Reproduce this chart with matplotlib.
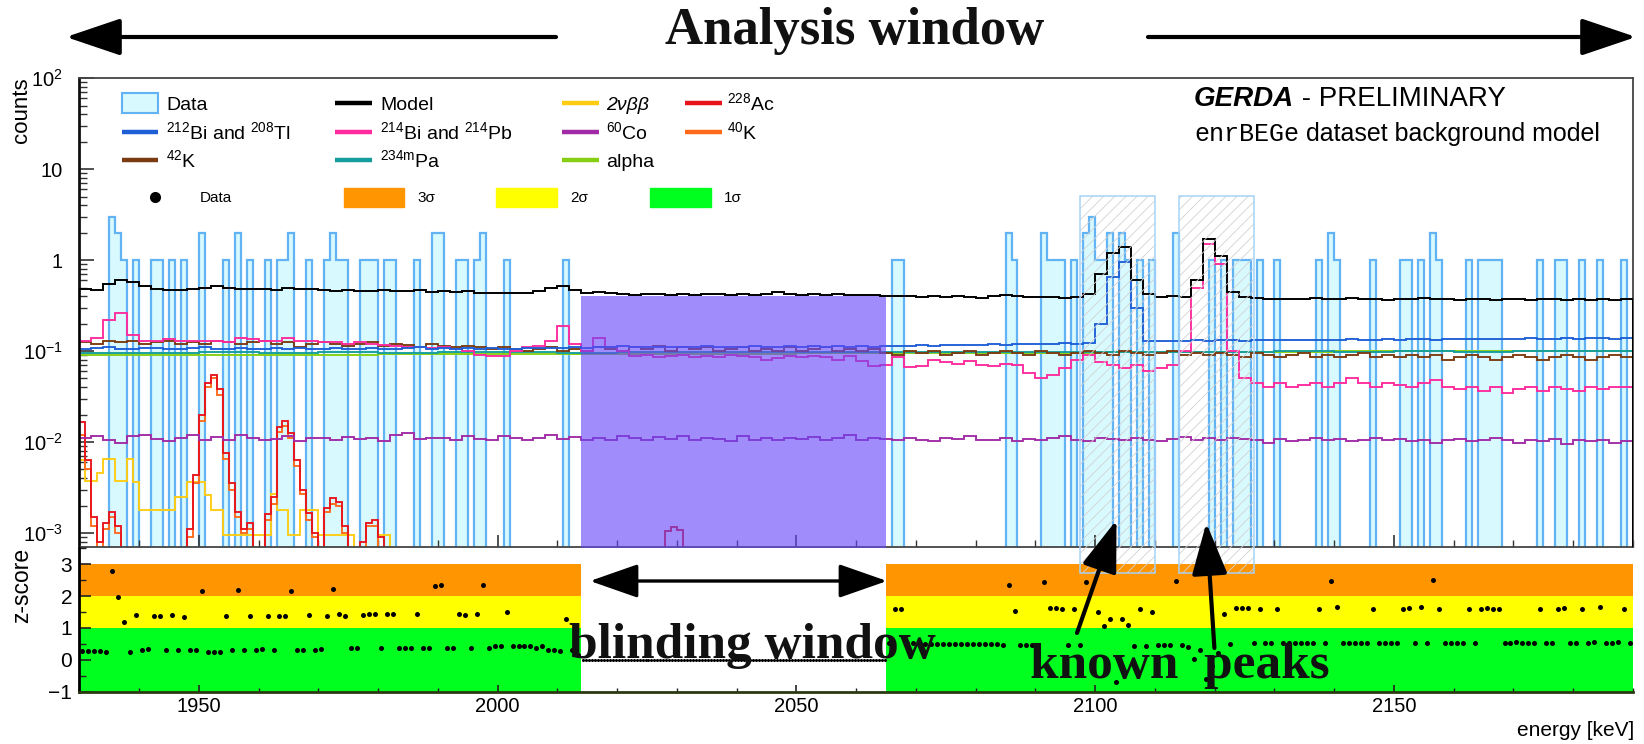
import matplotlib
matplotlib.use("Agg")
import matplotlib.pyplot as plt
import numpy as np
from matplotlib.lines import Line2D
from matplotlib.patches import Rectangle, FancyArrowPatch, ArrowStyle
from matplotlib.ticker import (FixedLocator, FixedFormatter, MultipleLocator,
                               LogLocator, NullFormatter)

plt.rcParams['font.family'] = ['Liberation Sans', 'DejaVu Sans']
plt.rcParams['mathtext.fontset'] = 'custom'
plt.rcParams['mathtext.rm'] = 'Liberation Sans'
plt.rcParams['mathtext.it'] = 'Liberation Sans:italic'
plt.rcParams['mathtext.bf'] = 'Liberation Sans:bold'
plt.rcParams['hatch.linewidth'] = 0.6

# ---------------- data ----------------
E_MIN, E_MAX = 1930, 2190
BLIND = (2014, 2065)
PEAK_BOXES = [(2097.5, 2110.0), (2114.0, 2126.5)]

# observed events per 1 keV bin (bins not listed are empty)
data_bins = [1935, 1936, 1937, 1939, 1942, 1943, 1945, 1947, 1950, 1954,
             1956, 1958, 1961, 1963, 1964, 1965, 1968, 1971, 1972, 1973,
             1974, 1977, 1978, 1979, 1981, 1982, 1986, 1989, 1990, 1993,
             1994, 1996, 1997, 2001, 2011,
             2066, 2067, 2085, 2086, 2091, 2092, 2093, 2094, 2096, 2098,
             2099, 2100, 2101, 2102, 2104, 2105, 2107, 2109, 2113, 2119,
             2121, 2123, 2124, 2125, 2127, 2130, 2137, 2139, 2140, 2146,
             2151, 2152, 2154, 2156, 2157, 2162, 2164, 2165, 2166, 2167,
             2174, 2177, 2178, 2181, 2184, 2188]
data_counts = [3, 2, 1, 1, 1, 1, 1, 1, 2, 1,
               2, 1, 1, 1, 1, 2, 1, 1, 2, 1,
               1, 1, 1, 1, 1, 1, 1, 2, 2, 1,
               1, 1, 2, 1, 1,
               1, 1, 2, 1, 2, 1, 1, 1, 1, 2,
               3, 1, 1, 2, 2, 1, 1, 1, 2, 1,
               1, 1, 1, 1, 1, 1, 1, 2, 1, 1,
               1, 1, 1, 2, 1, 1, 1, 1, 1, 1,
               1, 1, 1, 1, 1, 1]

# model components, 2 keV bins from 1930 to 2190
model = [0.48, 0.47, 0.55, 0.61, 0.58, 0.52, 0.48, 0.47, 0.47, 0.48,
         0.50, 0.52, 0.49, 0.48, 0.48, 0.48, 0.47, 0.49, 0.48, 0.48,
         0.47, 0.46, 0.47, 0.46, 0.46, 0.47, 0.46, 0.46, 0.47, 0.45,
         0.46, 0.45, 0.46, 0.44, 0.43, 0.43, 0.44, 0.43, 0.46, 0.49,
         0.52, 0.47, 0.44, 0.45, 0.44, 0.42, 0.41, 0.42, 0.42, 0.41,
         0.42, 0.41, 0.42, 0.42, 0.41, 0.42, 0.41, 0.42, 0.45, 0.42,
         0.41, 0.42, 0.41, 0.42, 0.41, 0.41, 0.41, 0.40, 0.40, 0.40,
         0.39, 0.40, 0.39, 0.40, 0.39, 0.38, 0.40, 0.41, 0.40, 0.39,
         0.39, 0.39, 0.38, 0.39, 0.42, 0.70, 1.20, 1.40, 0.60, 0.42,
         0.39, 0.40, 0.39, 0.60, 1.70, 1.10, 0.45, 0.39, 0.38, 0.37,
         0.37, 0.37, 0.37, 0.38, 0.37, 0.37, 0.38, 0.37, 0.37, 0.36,
         0.37, 0.37, 0.38, 0.37, 0.37, 0.36, 0.37, 0.37, 0.36, 0.37,
         0.37, 0.36, 0.37, 0.37, 0.36, 0.37, 0.36, 0.37, 0.36, 0.37]
bi212_tl208 = [0.105, 0.108, 0.110, 0.106, 0.105, 0.109, 0.108, 0.105, 0.106, 0.108,
               0.110, 0.106, 0.105, 0.107, 0.105, 0.106, 0.109, 0.105, 0.107, 0.106,
               0.105, 0.108, 0.106, 0.105, 0.108, 0.106, 0.105, 0.107, 0.110, 0.106,
               0.108, 0.105, 0.107, 0.106, 0.108, 0.105, 0.106, 0.108, 0.107, 0.109,
               0.108, 0.110, 0.108, 0.112, 0.110, 0.113, 0.111, 0.110, 0.112, 0.111,
               0.112, 0.110, 0.113, 0.111, 0.112, 0.110, 0.114, 0.112, 0.111, 0.113,
               0.112, 0.114, 0.111, 0.113, 0.112, 0.114, 0.112, 0.113, 0.115, 0.114,
               0.116, 0.115, 0.117, 0.116, 0.118, 0.117, 0.119, 0.118, 0.120, 0.119,
               0.121, 0.120, 0.122, 0.121, 0.123, 0.200, 0.650, 0.950, 0.300, 0.130,
               0.128, 0.130, 0.129, 0.131, 0.130, 0.132, 0.131, 0.130, 0.132, 0.131,
               0.133, 0.132, 0.134, 0.133, 0.132, 0.134, 0.135, 0.133, 0.134, 0.135,
               0.134, 0.136, 0.135, 0.134, 0.136, 0.135, 0.137, 0.136, 0.135, 0.137,
               0.136, 0.138, 0.137, 0.136, 0.138, 0.137, 0.139, 0.138, 0.137, 0.139]
bi214_pb214 = [0.130, 0.140, 0.220, 0.260, 0.150, 0.130, 0.130, 0.135, 0.130, 0.130,
               0.130, 0.130, 0.125, 0.140, 0.135, 0.130, 0.130, 0.140, 0.130, 0.130,
               0.125, 0.125, 0.120, 0.125, 0.120, 0.118, 0.115, 0.110, 0.112, 0.108,
               0.110, 0.105, 0.100, 0.090, 0.088, 0.088, 0.100, 0.112, 0.115, 0.130,
               0.190, 0.120, 0.100, 0.140, 0.110, 0.100, 0.088, 0.090, 0.085, 0.088,
               0.090, 0.085, 0.088, 0.085, 0.090, 0.088, 0.085, 0.080, 0.083, 0.088,
               0.085, 0.088, 0.085, 0.080, 0.088, 0.078, 0.068, 0.070, 0.085, 0.066,
               0.068, 0.080, 0.075, 0.072, 0.078, 0.070, 0.068, 0.072, 0.070, 0.058,
               0.050, 0.055, 0.065, 0.080, 0.090, 0.075, 0.070, 0.065, 0.070, 0.060,
               0.065, 0.070, 0.100, 0.500, 1.500, 0.900, 0.100, 0.050, 0.045, 0.040,
               0.045, 0.040, 0.042, 0.045, 0.040, 0.045, 0.050, 0.045, 0.040, 0.045,
               0.042, 0.040, 0.045, 0.048, 0.040, 0.038, 0.040, 0.036, 0.040, 0.035,
               0.038, 0.040, 0.036, 0.040, 0.038, 0.036, 0.040, 0.038, 0.040, 0.040]
k42 = [0.125, 0.120, 0.130, 0.125, 0.130, 0.120, 0.125, 0.130, 0.120, 0.125,
       0.120, 0.130, 0.125, 0.120, 0.125, 0.130, 0.120, 0.125, 0.110, 0.120,
       0.125, 0.120, 0.115, 0.120, 0.125, 0.115, 0.120, 0.118, 0.112, 0.120,
       0.115, 0.110, 0.115, 0.110, 0.105, 0.110, 0.105, 0.100, 0.105, 0.110,
       0.100, 0.105, 0.100, 0.110, 0.105, 0.100, 0.110, 0.105, 0.115, 0.100,
       0.110, 0.105, 0.110, 0.100, 0.105, 0.110, 0.100, 0.105, 0.100, 0.110,
       0.100, 0.105, 0.110, 0.100, 0.105, 0.100, 0.105, 0.095, 0.090, 0.100,
       0.095, 0.100, 0.090, 0.095, 0.100, 0.090, 0.095, 0.100, 0.095, 0.090,
       0.100, 0.095, 0.090, 0.095, 0.100, 0.095, 0.090, 0.100, 0.095, 0.090,
       0.095, 0.100, 0.090, 0.095, 0.090, 0.095, 0.090, 0.085, 0.095, 0.090,
       0.085, 0.090, 0.095, 0.085, 0.090, 0.085, 0.090, 0.095, 0.085, 0.090,
       0.085, 0.090, 0.085, 0.090, 0.080, 0.085, 0.090, 0.085, 0.080, 0.085,
       0.090, 0.085, 0.080, 0.085, 0.090, 0.085, 0.080, 0.085, 0.090, 0.085]
co60 = [0.0110, 0.0115, 0.0105, 0.0098, 0.0115, 0.0120, 0.0108, 0.0102, 0.0112, 0.0118,
        0.0106, 0.0114, 0.0104, 0.0120, 0.0112, 0.0105, 0.0108, 0.0116, 0.0102, 0.0112,
        0.0110, 0.0104, 0.0114, 0.0108, 0.0112, 0.0102, 0.0118, 0.0125, 0.0108, 0.0110,
        0.0112, 0.0104, 0.0115, 0.0108, 0.0106, 0.0115, 0.0112, 0.0105, 0.0112, 0.0118,
        0.0108, 0.0114, 0.0106, 0.0112, 0.0104, 0.0115, 0.0110, 0.0106, 0.0114, 0.0108,
        0.0116, 0.0104, 0.0112, 0.0108, 0.0102, 0.0115, 0.0106, 0.0110, 0.0104, 0.0112,
        0.0108, 0.0114, 0.0104, 0.0112, 0.0118, 0.0106, 0.0112, 0.0108, 0.0104, 0.0112,
        0.0106, 0.0102, 0.0112, 0.0108, 0.0115, 0.0104, 0.0106, 0.0112, 0.0102, 0.0108,
        0.0104, 0.0110, 0.0115, 0.0106, 0.0102, 0.0112, 0.0108, 0.0104, 0.0112, 0.0106,
        0.0102, 0.0108, 0.0114, 0.0106, 0.0110, 0.0104, 0.0112, 0.0108, 0.0104, 0.0098,
        0.0108, 0.0102, 0.0106, 0.0112, 0.0104, 0.0108, 0.0102, 0.0106, 0.0110, 0.0104,
        0.0108, 0.0102, 0.0106, 0.0098, 0.0104, 0.0108, 0.0102, 0.0106, 0.0112, 0.0104,
        0.0098, 0.0106, 0.0102, 0.0108, 0.0096, 0.0106, 0.0102, 0.0104, 0.0098, 0.0102]

# slowly varying components, 10 keV bins
alpha = [0.090, 0.090, 0.090, 0.091, 0.091, 0.092, 0.092, 0.092, 0.093, 0.093,
         0.094, 0.094, 0.095, 0.095, 0.095, 0.096, 0.096, 0.097, 0.097, 0.098,
         0.098, 0.099, 0.099, 0.100, 0.100, 0.100]
pa234m = [0.096, 0.096, 0.097, 0.096, 0.097, 0.096, 0.097, 0.097, 0.096, 0.097,
          0.097, 0.098, 0.097, 0.098, 0.097, 0.098, 0.098, 0.097, 0.098, 0.098,
          0.099, 0.098, 0.099, 0.098, 0.099, 0.099]

# low-energy gamma lines and 2nbb, 1 keV bins from 1930 to 1990
ac228 = [0.0165, 0.0063, 0.0015, 0.0008, 0.0013, 0.0017, 0.0012, 0.0002, 0.0002, 0.0002,
         0.0002, 0.0002, 0.0002, 0.0002, 0.0002, 0.0002, 0.0002, 0.0002, 0.0011, 0.0043,
         0.0200, 0.0450, 0.0550, 0.0380, 0.0076, 0.0035, 0.0017, 0.0011, 0.0013, 0.0002,
         0.0002, 0.0016, 0.0025, 0.0147, 0.0170, 0.0125, 0.0063, 0.0030, 0.00165, 0.0010,
         0.0002, 0.0019, 0.0024, 0.0022, 0.0012, 0.0002, 0.0002, 0.0008, 0.0013, 0.0014,
         0.0009, 0.0002, 0.0002, 0.0002, 0.0002, 0.0002, 0.0002, 0.0002, 0.0002, 0.0002]
k40 = [0.0120, 0.0050, 0.0012, 0.0002, 0.0011, 0.0015, 0.0010, 0.0002, 0.0002, 0.0002,
       0.0002, 0.0002, 0.0002, 0.0002, 0.0002, 0.0002, 0.0002, 0.0002, 0.0009, 0.0035,
       0.0170, 0.0400, 0.0500, 0.0330, 0.0065, 0.0030, 0.0015, 0.0010, 0.0011, 0.0002,
       0.0002, 0.0014, 0.0021, 0.0130, 0.0150, 0.0110, 0.0055, 0.0027, 0.0014, 0.0009,
       0.0002, 0.0017, 0.0021, 0.0020, 0.0010, 0.0002, 0.0002, 0.0002, 0.0012, 0.0012,
       0.0002, 0.0002, 0.0002, 0.0002, 0.0002, 0.0002, 0.0002, 0.0002, 0.0002, 0.0002]
nbb2 = [0.0063, 0.0037, 0.0037, 0.0046, 0.0065, 0.0065, 0.0037, 0.0037, 0.0065, 0.0036,
        0.0018, 0.0018, 0.0018, 0.0018, 0.0018, 0.0018, 0.0025, 0.0025, 0.0036, 0.0036,
        0.0036, 0.0026, 0.0018, 0.0018, 0.00095, 0.00095, 0.00095, 0.00095, 0.00095, 0.00095,
        0.00095, 0.00095, 0.0027, 0.0018, 0.0018, 0.00095, 0.00095, 0.0018, 0.0018, 0.0018,
        0.00095, 0.00095, 0.00095, 0.00095, 0.00095, 0.00095, 0.0002, 0.0002, 0.0002, 0.0002,
        0.00095, 0.00095, 0.0002, 0.0002, 0.0002, 0.0002, 0.0002, 0.0002, 0.0002, 0.0002]
ac228_blind_bins = [2028, 2029, 2030]
ac228_blind_vals = [0.00105, 0.00115, 0.00108]
blind_box_top = 0.40

# z-scores per 1 keV bin: 1930-2013 and 2065-2189
z_left = [0.27, 0.28, 0.28, 0.28, 0.25, 2.78, 1.97, 1.19, 0.24, 1.42,
          0.30, 0.34, 1.36, 1.36, 0.30, 1.42, 0.30, 1.34, 0.30, 0.30,
          2.17, 0.24, 0.24, 0.26, 1.36, 0.30, 2.20, 0.30, 1.36, 0.30,
          0.34, 1.36, 0.30, 1.36, 1.36, 2.17, 0.30, 0.30, 1.42, 0.30,
          0.34, 1.36, 2.23, 1.45, 1.38, 0.36, 0.38, 1.42, 1.45, 1.45,
          0.38, 1.45, 1.45, 0.38, 0.38, 0.38, 1.45, 0.36, 0.38, 2.31,
          2.36, 0.36, 0.38, 1.45, 1.40, 0.36, 1.45, 2.36, 0.38, 0.42,
          0.42, 1.49, 0.42, 0.42, 0.42, 0.42, 0.38, 0.42, 0.32, 0.32,
          0.27, 1.28, 0.30, 0.15]
z_right = [0.52, 1.60, 1.60, 0.52, 0.52, 0.50, 0.50, 0.50, 0.50, 0.50,
           0.50, 0.50, 0.50, 0.50, 0.50, 0.50, 0.50, 0.50, 0.50, 0.48,
           2.36, 1.53, 0.47, 0.47, 0.47, 0.48, 2.43, 1.62, 1.62, 1.60,
           0.47, 1.60, 0.47, 2.43, 3.00, 1.50, 1.07, 1.28, -0.70, 1.28,
           1.10, 0.42, 1.60, 0.42, 1.50, 0.45, 0.45, 0.47, 2.48, 0.45,
           0.40, 0.03, 0.31, -0.60, -0.20, 0.20, 1.45, 0.50, 1.62, 1.62,
           1.62, 0.52, 1.60, 0.52, 0.52, 1.60, 0.54, 0.54, 0.54, 0.54,
           0.54, 0.54, 1.60, 0.54, 2.48, 1.65, 0.54, 0.54, 0.54, 0.54,
           0.54, 1.60, 0.54, 0.54, 0.54, 0.54, 1.60, 1.62, 0.54, 1.65,
           0.54, 2.52, 1.60, 0.54, 0.54, 0.54, 0.54, 1.60, 0.54, 1.60,
           1.62, 1.60, 1.60, 0.54, 0.54, 0.56, 0.54, 0.54, 0.54, 1.60,
           0.54, 0.54, 1.60, 1.62, 0.54, 0.54, 1.60, 0.54, 0.56, 1.65,
           0.54, 0.54, 0.56, 1.60, 0.54]
z_blinded = 0.0

sigma_levels = [-1, 1, 2, 3]
sigma_colours = ['#00ff1e', '#ffff00', '#ff9500']

# ---------------- styles ----------------
C = dict(data_face='#d8f9fd', data_edge='#62b3f4', model='#000000',
         bitl='#1f5fd6', bipb='#ff2a9d', nbb='#ffcc11', ac='#e8141c',
         co='#a12aa6', k40='#ff6a1a', k42='#7b3b12', pa='#159c9c',
         alpha='#86cf10', blind='#6646f7')

W, H = 1644, 744
def fx(x):
    return x / W
def fy(y):
    return 1 - y / H

fig = plt.figure(figsize=(W / 100, H / 100), dpi=100)
ax = fig.add_axes([fx(79.3), fy(547), fx(1633) - fx(79.3), fy(78.3) - fy(547)])
axz = fig.add_axes([fx(79.3), fy(691.7), fx(1633) - fx(79.3), fy(548.3) - fy(691.7)],
                   sharex=ax)

floor = 1e-5
e1 = np.arange(E_MIN, E_MAX + 1)
e2 = np.arange(E_MIN, E_MAX + 1, 2)
e10 = np.arange(E_MIN, E_MAX + 1, 10)
e_low = np.arange(E_MIN, E_MIN + len(ac228) + 1)

counts = np.zeros(E_MAX - E_MIN)
for b, c in zip(data_bins, data_counts):
    counts[b - E_MIN] = c
hist_vals = np.where(counts > 0, counts, floor)

# ---------------- upper panel ----------------
ax.stairs(hist_vals, e1, baseline=floor, fill=True, color=C['data_face'], lw=0, zorder=1)
ax.stairs(hist_vals, e1, baseline=floor, color=C['data_edge'], lw=1.6, zorder=1.1)

lw = 1.35
ax.stairs(nbb2, e_low, color=C['nbb'], lw=lw, zorder=2)
ax.stairs(k40, e_low, color=C['k40'], lw=lw, zorder=2)
ax.stairs(ac228, e_low, color=C['ac'], lw=lw, zorder=2)
ab_edges = ac228_blind_bins + [ac228_blind_bins[-1] + 1]
ax.stairs(ac228_blind_vals, ab_edges, baseline=floor, color=C['ac'], lw=lw, zorder=2)
ax.stairs(co60, e2, color=C['co'], lw=lw, zorder=2)
ax.stairs(alpha, e10, color=C['alpha'], lw=lw, zorder=2)
ax.stairs(pa234m, e10, color=C['pa'], lw=lw, zorder=2)
ax.stairs(k42, e2, color=C['k42'], lw=lw, zorder=2)
ax.stairs(bi214_pb214, e2, color=C['bipb'], lw=lw, zorder=2)
ax.stairs(bi212_tl208, e2, color=C['bitl'], lw=lw, zorder=2)

ax.fill_between(list(BLIND), floor, blind_box_top, color=C['blind'], alpha=0.62,
                lw=0, zorder=3)
ax.stairs(model, e2, color=C['model'], lw=1.4, zorder=4)

ax.set_yscale('log')
ax.set_ylim(7e-4, 100)
ax.set_xlim(E_MIN, E_MAX)
ax.yaxis.set_major_locator(FixedLocator([1e-3, 1e-2, 1e-1, 1, 10, 100]))
ax.yaxis.set_major_formatter(FixedFormatter([r'$10^{-3}$', r'$10^{-2}$', r'$10^{-1}$',
                                             '1', '10', r'$10^{2}$']))
ax.yaxis.set_minor_locator(LogLocator(base=10, subs=np.arange(2, 10), numticks=20))
ax.yaxis.set_minor_formatter(NullFormatter())
ax.xaxis.set_major_locator(MultipleLocator(50))
ax.xaxis.set_minor_locator(MultipleLocator(10))
ax.tick_params(which='both', direction='in', color='#333333')
ax.tick_params(axis='y', which='major', length=11, width=1.2, labelsize=14.5, pad=12)
ax.tick_params(axis='y', which='minor', length=5.5, width=1)
ax.tick_params(axis='x', which='major', length=9, width=1.2, labelbottom=False)
ax.tick_params(axis='x', which='minor', length=5, width=1)
for s in ax.spines.values():
    s.set_color('#444444')
    s.set_linewidth(1.3)
ax.spines['left'].set_color('#111111')
ax.spines['left'].set_linewidth(2)

# ---------------- z-score panel ----------------
for lo, hi in [(E_MIN, BLIND[0]), (BLIND[1], E_MAX)]:
    for (z0, z1), col in zip(zip(sigma_levels[:-1], sigma_levels[1:]), sigma_colours):
        axz.fill_between([lo, hi], z0, z1, color=col, lw=0, zorder=1)

x_left = np.arange(E_MIN, BLIND[0]) + 0.5
x_right = np.arange(BLIND[1], E_MAX) + 0.5
x_blind = np.arange(BLIND[0] + 0.25, BLIND[1], 0.5)
axz.plot(x_left, z_left, 'o', color='k', ms=3.6, mew=0, zorder=3)
axz.plot(x_right, z_right, 'o', color='k', ms=3.6, mew=0, zorder=3)
axz.plot(x_blind, np.full(len(x_blind), z_blinded), 'o', color='k', ms=2.2, mew=0, zorder=3)

axz.set_ylim(-1, 3.5)
axz.set_xlim(E_MIN, E_MAX)
axz.yaxis.set_major_locator(FixedLocator([-1, 0, 1, 2, 3]))
axz.yaxis.set_major_formatter(FixedFormatter(['\u22121', '0', '1', '2', '3']))
axz.yaxis.set_minor_locator(MultipleLocator(0.5))
axz.tick_params(which='both', direction='in', color='#222222')
axz.tick_params(axis='y', which='major', length=8.5, width=1.2, labelsize=15, pad=5)
axz.tick_params(axis='y', which='minor', length=5, width=1)
axz.tick_params(axis='x', which='major', length=5, width=1.2, labelsize=14.5, pad=4)
axz.tick_params(axis='x', which='minor', length=3, width=1)
axz.spines['top'].set_visible(False)
axz.spines['right'].set_visible(False)
axz.spines['left'].set_linewidth(2)
axz.spines['bottom'].set_linewidth(2)
axz.spines['bottom'].set_color('#2a3a10')

# ---------------- axis titles ----------------
fig.text(fx(21), fy(110), 'counts', rotation=90, ha='center', va='center', fontsize=16)
fig.text(fx(22), fy(585), 'z-score', rotation=90, ha='center', va='center', fontsize=16.5)
fig.text(fx(1634), fy(731), 'energy [keV]', ha='right', va='center', fontsize=15)

# ---------------- legend ----------------
rows_y = [103, 132, 160]
cols = [(122, 158, 166), (335, 372, 380), (562, 599, 606), (685, 722, 727)]
entries = [
    (1, 0, C['model'], 'Model', 'normal'),
    (2, 0, C['nbb'], '2\u03bd\u03b2\u03b2', 'italic'),
    (3, 0, C['ac'], r'$^{228}$Ac', 'normal'),
    (0, 1, C['bitl'], r'$^{212}$Bi and $^{208}$Tl', 'normal'),
    (1, 1, C['bipb'], r'$^{214}$Bi and $^{214}$Pb', 'normal'),
    (2, 1, C['co'], r'$^{60}$Co', 'normal'),
    (3, 1, C['k40'], r'$^{40}$K', 'normal'),
    (0, 2, C['k42'], r'$^{42}$K', 'normal'),
    (1, 2, C['pa'], r'$^{234\mathrm{m}}$Pa', 'normal'),
    (2, 2, C['alpha'], 'alpha', 'normal'),
]
for ci, ri, col, label, style in entries:
    x0, x1, xt = cols[ci]
    y = rows_y[ri]
    fig.add_artist(Line2D([fx(x0), fx(x1)], [fy(y), fy(y)], transform=fig.transFigure,
                          color=col, lw=3.2, solid_capstyle='butt'))
    fig.text(fx(xt), fy(y + 7), label, ha='left', va='baseline', fontsize=14,
             fontstyle=style)
x0, x1, xt = cols[0]
fig.add_artist(Rectangle((fx(x0), fy(113)), fx(x1) - fx(x0), fy(93) - fy(113),
                         transform=fig.transFigure, facecolor=C['data_face'],
                         edgecolor=C['data_edge'], lw=1.5))
fig.text(fx(xt), fy(rows_y[0] + 7), 'Data', ha='left', va='baseline', fontsize=14)

# z-score legend row
fig.add_artist(Line2D([fx(155)], [fy(197)], transform=fig.transFigure, marker='o',
                      color='k', ms=8, mew=0, ls='none'))
fig.text(fx(200), fy(202), 'Data', ha='left', va='baseline', fontsize=11)
for (bx0, bx1, tx), col, lab in zip([(344, 404, 417), (496, 557, 570), (650, 711, 724)],
                                     sigma_colours[::-1], ['3\u03c3', '2\u03c3', '1\u03c3']):
    fig.add_artist(Rectangle((fx(bx0), fy(207)), fx(bx1) - fx(bx0), fy(188) - fy(207),
                             transform=fig.transFigure, facecolor=col,
                             edgecolor=col, lw=1))
    fig.text(fx(tx), fy(202), lab, ha='left', va='baseline', fontsize=11)

# ---------------- experiment label ----------------
t1 = fig.text(fx(1194), fy(106), 'GERDA', ha='left', va='baseline', fontsize=20,
              fontweight='bold', fontstyle='italic')
t3 = fig.text(fx(1194), fy(141), 'enrBEGe', ha='left', va='baseline', fontsize=18,
              family=['Liberation Mono', 'DejaVu Sans Mono'])
fig.canvas.draw()
r = fig.canvas.get_renderer()
bb1 = t1.get_window_extent(r)
bb3 = t3.get_window_extent(r)
fig.text(bb1.x1 / W, fy(106), ' - PRELIMINARY', ha='left', va='baseline', fontsize=20)
fig.text(bb3.x1 / W, fy(141), ' dataset background model', ha='left', va='baseline',
         fontsize=18)

# ---------------- known-peak boxes ----------------
for (k0, k1) in PEAK_BOXES:
    px0 = 79.3 + (k0 - E_MIN) * (1633 - 79.3) / (E_MAX - E_MIN)
    px1 = 79.3 + (k1 - E_MIN) * (1633 - 79.3) / (E_MAX - E_MIN)
    rect_kw = dict(transform=fig.transFigure)
    fig.add_artist(Rectangle((fx(px0), fy(573)), fx(px1) - fx(px0), fy(196) - fy(573),
                             facecolor='none', edgecolor='#d2d2d2', hatch='///', lw=0,
                             **rect_kw))
    fig.add_artist(Rectangle((fx(px0), fy(573)), fx(px1) - fx(px0), fy(196) - fy(573),
                             facecolor='none', edgecolor='#a6d3f7', lw=1.1, **rect_kw))

# ---------------- annotations ----------------
def arrow(p0, p1, hl, hw, lw, style='-|>'):
    a = FancyArrowPatch((fx(p0[0]), fy(p0[1])), (fx(p1[0]), fy(p1[1])),
                        transform=fig.transFigure,
                        arrowstyle=ArrowStyle(style, head_length=hl, head_width=hw),
                        mutation_scale=1, lw=lw, color='k', shrinkA=0, shrinkB=0,
                        zorder=5)
    fig.add_artist(a)

serif = ['Liberation Serif', 'DejaVu Serif']
fig.text(fx(855), fy(31), 'Analysis window', ha='center', va='center', fontsize=38,
         fontweight='bold', family=serif, color='#111111')
arrow((556, 37), (66, 37), 34, 11.5, 3)
arrow((1148, 37), (1636, 37), 34, 11.5, 3)

arrow((590, 581), (887, 581), 30, 10.5, 2.4, style='<|-|>')
fig.text(fx(752), fy(658), 'blinding window', ha='center', va='baseline', fontsize=37,
         fontweight='bold', family=serif, color='#111111', zorder=6)

fig.text(fx(1180), fy(678), 'known  peaks', ha='center', va='baseline', fontsize=37,
         fontweight='bold', family=serif, color='#111111', zorder=6)
arrow((1077, 633), (1116.5, 520), 32, 11, 3)
arrow((1214.4, 648), (1206.3, 523), 32, 11, 3)

fig.savefig('out.png', dpi=100)
